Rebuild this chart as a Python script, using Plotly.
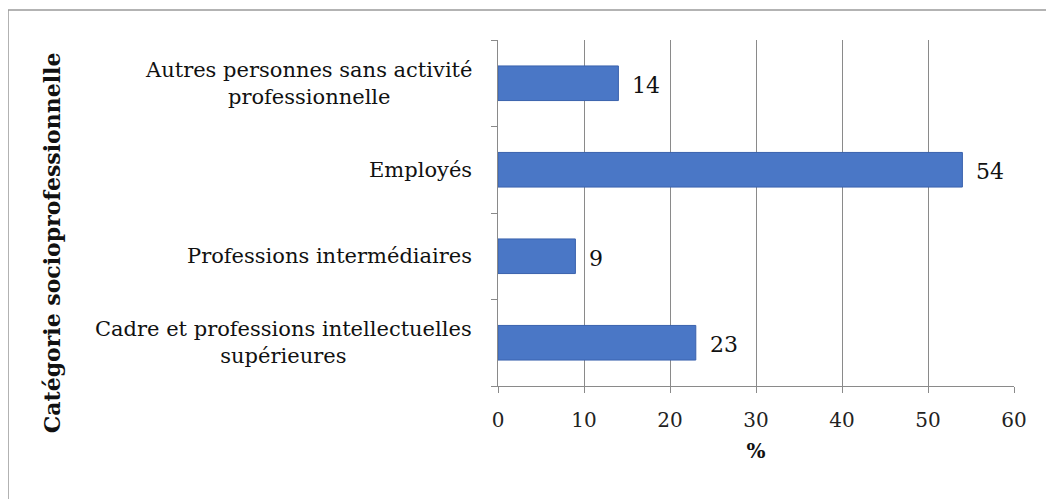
import plotly.graph_objects as go

categories = [
    "Cadre et professions intellectuelles<br>supérieures",
    "Professions intermédiaires",
    "Employés",
    "Autres personnes sans activité<br>professionnelle",
]
values = [23, 9, 54, 14]
x_ticks = [0, 10, 20, 30, 40, 50, 60]

FONT = "DejaVu Serif"

fig = go.Figure()
fig.add_trace(go.Bar(
    y=categories, x=values, orientation="h",
    marker=dict(color="#4a77c6", line=dict(color="#3a62ad", width=1)),
    cliponaxis=False,
))

for c, v in zip(categories, values):
    fig.add_annotation(x=0, y=c, xref="x", yref="y", text=c, showarrow=False,
                       xanchor="right", align="center", xshift=-24,
                       font=dict(family=FONT, size=21, color="#111"))
    fig.add_annotation(x=v, y=c, xref="x", yref="y", text=str(v), showarrow=False,
                       xanchor="left", xshift=12, yshift=-2,
                       font=dict(family=FONT, size=22, color="#111"))

fig.add_annotation(x=-0.864, y=0.413, xref="paper", yref="paper",
                   xanchor="center", yanchor="middle",
                   text="<b>Catégorie socioprofessionnelle</b>", textangle=-90,
                   showarrow=False, font=dict(family=FONT, size=22, color="#111"))

fig.add_shape(type="rect", xref="paper", yref="paper",
              x0=-0.9496, x1=1.0678, y0=-0.40, y1=1.0867,
              line=dict(color="#9a9a9a", width=1.5))

fig.update_layout(
    width=1046, height=491,
    margin=dict(l=490, r=40, t=32, b=113),
    paper_bgcolor="white", plot_bgcolor="white",
    bargap=0.6, showlegend=False,
    xaxis=dict(range=[0, 60], tickvals=x_ticks, showgrid=True, gridcolor="#8a8a8a",
               gridwidth=1, showline=True, linecolor="#8a8a8a", ticks="outside",
               ticklen=6, tickcolor="#8a8a8a", zeroline=False, ticklabelstandoff=10,
               tickfont=dict(family=FONT, size=20, color="#222"),
               title=dict(text="<b>%</b>", font=dict(family=FONT, size=20, color="#111"),
                          standoff=12)),
    yaxis=dict(categoryorder="array", categoryarray=categories, showticklabels=False,
               showline=True, linecolor="#8a8a8a", ticks="outside", ticklen=6,
               tickcolor="#8a8a8a", tickson="boundaries", showgrid=False),
)

fig.write_html("out.html")
